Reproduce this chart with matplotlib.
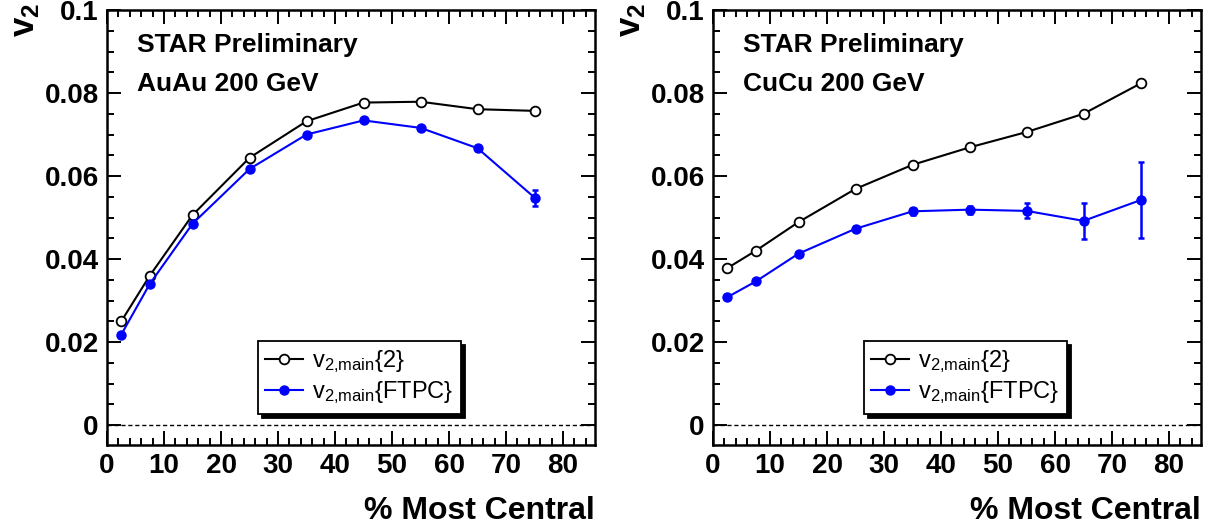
"""Elliptic flow v2 vs centrality for AuAu and CuCu at 200 GeV (STAR Preliminary)."""

import matplotlib

matplotlib.use("Agg")

import matplotlib.pyplot as plt
from matplotlib.ticker import FixedLocator, MultipleLocator

plt.rcParams["font.family"] = ["Liberation Sans", "DejaVu Sans"]
plt.rcParams["mathtext.fontset"] = "custom"
plt.rcParams["mathtext.rm"] = "Liberation Sans"
plt.rcParams["mathtext.it"] = "Liberation Sans"
plt.rcParams["mathtext.bf"] = "Liberation Sans:bold"

# centrality bin centres (% most central)
centrality = [2.5, 7.5, 15, 25, 35, 45, 55, 65, 75]

# AuAu 200 GeV
auau_v2_2 = [0.0250, 0.0360, 0.0506, 0.0644, 0.0732, 0.0777, 0.0779, 0.0761, 0.0757]
auau_v2_ftpc = [0.0218, 0.0340, 0.0485, 0.0617, 0.0700, 0.0734, 0.0716, 0.0667, 0.0548]
auau_ftpc_err = [0.0002, 0.0002, 0.0002, 0.0002, 0.0002, 0.0003, 0.0004, 0.0006, 0.0019]

# CuCu 200 GeV
cucu_v2_2 = [0.0378, 0.0420, 0.0489, 0.0569, 0.0627, 0.0669, 0.0706, 0.0750, 0.0823]
cucu_v2_ftpc = [0.0308, 0.0346, 0.0413, 0.0473, 0.0515, 0.0519, 0.0516, 0.0492, 0.0542]
cucu_ftpc_err = [0.0003, 0.0004, 0.0005, 0.0006, 0.0008, 0.0010, 0.0018, 0.0043, 0.0092]

y_ticks = [0, 0.02, 0.04, 0.06, 0.08, 0.1]
y_tick_labels = ["0", "0.02", "0.04", "0.06", "0.08", "0.1"]
x_ticks = [0, 10, 20, 30, 40, 50, 60, 70, 80]
x_tick_labels = ["0", "10", "20", "30", "40", "50", "60", "70", "80"]

panels = [
    ("AuAu 200 GeV", auau_v2_2, auau_v2_ftpc, auau_ftpc_err),
    ("CuCu 200 GeV", cucu_v2_2, cucu_v2_ftpc, cucu_ftpc_err),
]

fig = plt.figure(figsize=(12.12, 5.25), dpi=100)
W, H = 1212, 525
axes = [
    fig.add_axes([107 / W, (H - 445) / H, 488 / W, 435 / H]),
    fig.add_axes([713 / W, (H - 445) / H, 488 / W, 435 / H]),
]

for ax, (system, v2_2, v2_ftpc, ftpc_err) in zip(axes, panels):
    ax.axhline(0, color="black", lw=1.0, ls=(0, (3, 2)), zorder=1)
    ax.plot(centrality, v2_2, color="black", lw=1.5, marker="o", ms=7,
            mfc="white", mec="black", mew=1.3,
            label=r"$\mathregular{v_{2{,}main}\{2\}}$", zorder=3)
    ax.errorbar(centrality, v2_ftpc, yerr=ftpc_err, fmt="none", ecolor="blue",
                elinewidth=1.8, capsize=2.5, capthick=1.8, zorder=4)
    ax.plot(centrality, v2_ftpc, color="blue", lw=1.5, marker="o", ms=6.5,
            label=r"$\mathregular{v_{2{,}main}\{FTPC\}}$", zorder=5)

    ax.set_xlim(0, 85.6)
    ax.set_ylim(-0.0048, 0.1)
    ax.xaxis.set_major_locator(FixedLocator(x_ticks))
    ax.set_xticklabels(x_tick_labels)
    ax.xaxis.set_minor_locator(MultipleLocator(2))
    ax.yaxis.set_major_locator(FixedLocator(y_ticks))
    ax.set_yticklabels(y_tick_labels)
    ax.yaxis.set_minor_locator(MultipleLocator(0.005))
    ax.tick_params(which="both", direction="in", top=True, right=True, width=1.4)
    ax.tick_params(which="major", length=10, labelsize=20, pad=6)
    ax.tick_params(which="minor", length=5)
    for lbl in ax.get_xticklabels() + ax.get_yticklabels():
        lbl.set_fontweight("bold")
    for spine in ax.spines.values():
        spine.set_linewidth(1.8)

    ax.text(0.061, 0.92, "STAR Preliminary", transform=ax.transAxes,
            fontsize=19, fontweight="bold", va="center", ha="left")
    ax.text(0.061, 0.83, system, transform=ax.transAxes,
            fontsize=19, fontweight="bold", va="center", ha="left")

    ax.set_xlabel("% Most Central", fontsize=23, fontweight="bold",
                  loc="right", labelpad=12)
    ax.text(-0.168, 1.017, r"$\mathbf{v_2}$", transform=ax.transAxes, rotation=90,
            fontsize=25, ha="center", va="top")

    leg = ax.legend(loc="upper left", bbox_to_anchor=(0.309, 0.239),
                    borderaxespad=0, fontsize=17, frameon=True, fancybox=False,
                    shadow={"color": "black", "alpha": 1.0, "ox": 3, "oy": -3},
                    handlelength=1.6, handletextpad=0.4, borderpad=0.3,
                    labelspacing=0.2)
    leg.get_frame().set_edgecolor("black")
    leg.get_frame().set_linewidth(1.3)

fig.savefig("out.png", dpi=100)
